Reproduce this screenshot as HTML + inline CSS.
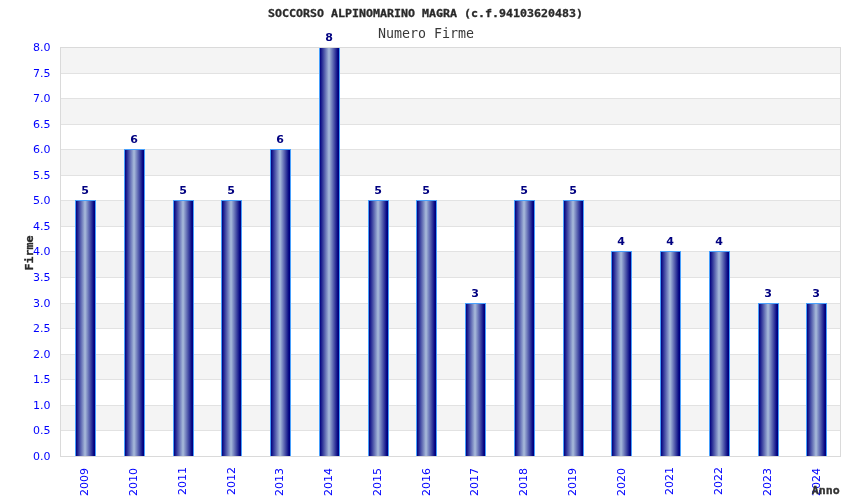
<!DOCTYPE html>
<html lang="it">
<head>
<meta charset="utf-8">
<title>SOCCORSO ALPINOMARINO MAGRA - Numero Firme</title>
<style>
html,body{margin:0;padding:0;background:#fff;}
body{width:850px;height:500px;overflow:hidden;position:relative;}
svg{position:absolute;left:0;top:0;display:block;}
.tick{font-family:"DejaVu Sans","Liberation Sans",sans-serif;font-size:11px;fill:#0000ff;}
.ttl{font-family:"DejaVu Sans Mono","Liberation Mono",monospace;font-weight:bold;font-size:11px;fill:#2a2a2a;stroke:#2a2a2a;stroke-width:0.3px;}
.sub{font-family:"DejaVu Sans Mono","Liberation Mono",monospace;font-size:13.3px;fill:#383838;}
.val{font-family:"DejaVu Sans","Liberation Sans",sans-serif;font-weight:bold;font-size:11px;fill:#000080;}
</style>
</head>
<body>
<svg width="850" height="500" viewBox="0 0 850 500">
<defs>
<linearGradient id="g" x1="0" y1="0" x2="1" y2="0">
<stop offset="0" stop-color="#000080"/>
<stop offset="0.45" stop-color="#a0b2d6"/>
<stop offset="0.5" stop-color="#a0b2d6"/>
<stop offset="0.95" stop-color="#000080"/>
<stop offset="1" stop-color="#000080"/>
</linearGradient>
</defs>
<rect x="0" y="0" width="850" height="500" fill="#ffffff"/>

<rect x="60" y="47" width="781" height="26" fill="#f4f4f4"/>
<rect x="60" y="98" width="781" height="26" fill="#f4f4f4"/>
<rect x="60" y="149" width="781" height="26" fill="#f4f4f4"/>
<rect x="60" y="200" width="781" height="26" fill="#f4f4f4"/>
<rect x="60" y="251" width="781" height="26" fill="#f4f4f4"/>
<rect x="60" y="303" width="781" height="25" fill="#f4f4f4"/>
<rect x="60" y="354" width="781" height="25" fill="#f4f4f4"/>
<rect x="60" y="405" width="781" height="25" fill="#f4f4f4"/>
<rect x="60" y="47" width="781" height="1" fill="#e2e2e2"/>
<rect x="60" y="73" width="781" height="1" fill="#e2e2e2"/>
<rect x="60" y="98" width="781" height="1" fill="#e2e2e2"/>
<rect x="60" y="124" width="781" height="1" fill="#e2e2e2"/>
<rect x="60" y="149" width="781" height="1" fill="#e2e2e2"/>
<rect x="60" y="175" width="781" height="1" fill="#e2e2e2"/>
<rect x="60" y="200" width="781" height="1" fill="#e2e2e2"/>
<rect x="60" y="226" width="781" height="1" fill="#e2e2e2"/>
<rect x="60" y="251" width="781" height="1" fill="#e2e2e2"/>
<rect x="60" y="277" width="781" height="1" fill="#e2e2e2"/>
<rect x="60" y="303" width="781" height="1" fill="#e2e2e2"/>
<rect x="60" y="328" width="781" height="1" fill="#e2e2e2"/>
<rect x="60" y="354" width="781" height="1" fill="#e2e2e2"/>
<rect x="60" y="379" width="781" height="1" fill="#e2e2e2"/>
<rect x="60" y="405" width="781" height="1" fill="#e2e2e2"/>
<rect x="60" y="430" width="781" height="1" fill="#e2e2e2"/>
<rect x="60" y="456" width="781" height="1" fill="#e2e2e2"/>
<rect x="75" y="200" width="21" height="256" fill="#48a0fc"/>
<rect x="76" y="201" width="19" height="255" fill="url(#g)"/>
<text class="val" x="85.1" y="194" text-anchor="middle">5</text>
<text class="tick" transform="translate(87.5,496) rotate(-90)">2009</text>
<rect x="124" y="149" width="21" height="307" fill="#48a0fc"/>
<rect x="125" y="150" width="19" height="306" fill="url(#g)"/>
<text class="val" x="134.1" y="143" text-anchor="middle">6</text>
<text class="tick" transform="translate(136.5,496) rotate(-90)">2010</text>
<rect x="173" y="200" width="21" height="256" fill="#48a0fc"/>
<rect x="174" y="201" width="19" height="255" fill="url(#g)"/>
<text class="val" x="183.1" y="194" text-anchor="middle">5</text>
<text class="tick" transform="translate(185.5,495) rotate(-90)">2011</text>
<rect x="221" y="200" width="21" height="256" fill="#48a0fc"/>
<rect x="222" y="201" width="19" height="255" fill="url(#g)"/>
<text class="val" x="231.1" y="194" text-anchor="middle">5</text>
<text class="tick" transform="translate(234.5,495) rotate(-90)">2012</text>
<rect x="270" y="149" width="21" height="307" fill="#48a0fc"/>
<rect x="271" y="150" width="19" height="306" fill="url(#g)"/>
<text class="val" x="280.1" y="143" text-anchor="middle">6</text>
<text class="tick" transform="translate(282.5,496) rotate(-90)">2013</text>
<rect x="319" y="47" width="21" height="409" fill="#48a0fc"/>
<rect x="320" y="48" width="19" height="408" fill="url(#g)"/>
<text class="val" x="329.1" y="41" text-anchor="middle">8</text>
<text class="tick" transform="translate(331.5,496) rotate(-90)">2014</text>
<rect x="368" y="200" width="21" height="256" fill="#48a0fc"/>
<rect x="369" y="201" width="19" height="255" fill="url(#g)"/>
<text class="val" x="378.1" y="194" text-anchor="middle">5</text>
<text class="tick" transform="translate(380.5,496) rotate(-90)">2015</text>
<rect x="416" y="200" width="21" height="256" fill="#48a0fc"/>
<rect x="417" y="201" width="19" height="255" fill="url(#g)"/>
<text class="val" x="426.1" y="194" text-anchor="middle">5</text>
<text class="tick" transform="translate(429.5,496) rotate(-90)">2016</text>
<rect x="465" y="303" width="21" height="153" fill="#48a0fc"/>
<rect x="466" y="304" width="19" height="152" fill="url(#g)"/>
<text class="val" x="475.1" y="297" text-anchor="middle">3</text>
<text class="tick" transform="translate(477.5,496) rotate(-90)">2017</text>
<rect x="514" y="200" width="21" height="256" fill="#48a0fc"/>
<rect x="515" y="201" width="19" height="255" fill="url(#g)"/>
<text class="val" x="524.1" y="194" text-anchor="middle">5</text>
<text class="tick" transform="translate(526.5,496) rotate(-90)">2018</text>
<rect x="563" y="200" width="21" height="256" fill="#48a0fc"/>
<rect x="564" y="201" width="19" height="255" fill="url(#g)"/>
<text class="val" x="573.1" y="194" text-anchor="middle">5</text>
<text class="tick" transform="translate(575.5,496) rotate(-90)">2019</text>
<rect x="611" y="251" width="21" height="205" fill="#48a0fc"/>
<rect x="612" y="252" width="19" height="204" fill="url(#g)"/>
<text class="val" x="621.1" y="245" text-anchor="middle">4</text>
<text class="tick" transform="translate(624.5,496) rotate(-90)">2020</text>
<rect x="660" y="251" width="21" height="205" fill="#48a0fc"/>
<rect x="661" y="252" width="19" height="204" fill="url(#g)"/>
<text class="val" x="670.1" y="245" text-anchor="middle">4</text>
<text class="tick" transform="translate(672.5,495) rotate(-90)">2021</text>
<rect x="709" y="251" width="21" height="205" fill="#48a0fc"/>
<rect x="710" y="252" width="19" height="204" fill="url(#g)"/>
<text class="val" x="719.1" y="245" text-anchor="middle">4</text>
<text class="tick" transform="translate(721.5,495) rotate(-90)">2022</text>
<rect x="758" y="303" width="21" height="153" fill="#48a0fc"/>
<rect x="759" y="304" width="19" height="152" fill="url(#g)"/>
<text class="val" x="768.1" y="297" text-anchor="middle">3</text>
<text class="tick" transform="translate(770.5,496) rotate(-90)">2023</text>
<rect x="806" y="303" width="21" height="153" fill="#48a0fc"/>
<rect x="807" y="304" width="19" height="152" fill="url(#g)"/>
<text class="val" x="816.1" y="297" text-anchor="middle">3</text>
<text class="tick" transform="translate(819.5,496) rotate(-90)">2024</text>
<rect x="60" y="47" width="1" height="410" fill="#dadada"/>
<rect x="840" y="47" width="1" height="410" fill="#dadada"/>
<rect x="60" y="47" width="781" height="1" fill="#dadada"/>
<rect x="60" y="456" width="781" height="1" fill="#dadada"/>
<text class="tick" x="50.5" y="51.0" text-anchor="end">8.0</text>
<text class="tick" x="50.5" y="77.0" text-anchor="end">7.5</text>
<text class="tick" x="50.5" y="102.0" text-anchor="end">7.0</text>
<text class="tick" x="50.5" y="128.0" text-anchor="end">6.5</text>
<text class="tick" x="50.5" y="153.0" text-anchor="end">6.0</text>
<text class="tick" x="50.5" y="179.0" text-anchor="end">5.5</text>
<text class="tick" x="50.5" y="204.0" text-anchor="end">5.0</text>
<text class="tick" x="50.5" y="230.0" text-anchor="end">4.5</text>
<text class="tick" x="50.5" y="255.0" text-anchor="end">4.0</text>
<text class="tick" x="50.5" y="281.0" text-anchor="end">3.5</text>
<text class="tick" x="50.5" y="307.0" text-anchor="end">3.0</text>
<text class="tick" x="50.5" y="332.0" text-anchor="end">2.5</text>
<text class="tick" x="50.5" y="358.0" text-anchor="end">2.0</text>
<text class="tick" x="50.5" y="383.0" text-anchor="end">1.5</text>
<text class="tick" x="50.5" y="409.0" text-anchor="end">1.0</text>
<text class="tick" x="50.5" y="434.0" text-anchor="end">0.5</text>
<text class="tick" x="50.5" y="460.0" text-anchor="end">0.0</text>
<text class="ttl" x="425.5" y="16.5" text-anchor="middle" textLength="315" lengthAdjust="spacingAndGlyphs">SOCCORSO ALPINOMARINO MAGRA (c.f.94103620483)</text>
<text class="sub" x="426" y="38" text-anchor="middle" textLength="96" lengthAdjust="spacing">Numero Firme</text>
<text class="ttl" transform="translate(33,270.5) rotate(-90)" textLength="35" lengthAdjust="spacingAndGlyphs">Firme</text>
<text class="ttl" style="fill:#333;stroke:#333" x="811.7" y="493.6" textLength="28" lengthAdjust="spacingAndGlyphs">Anno</text>
</svg>
</body>
</html>
